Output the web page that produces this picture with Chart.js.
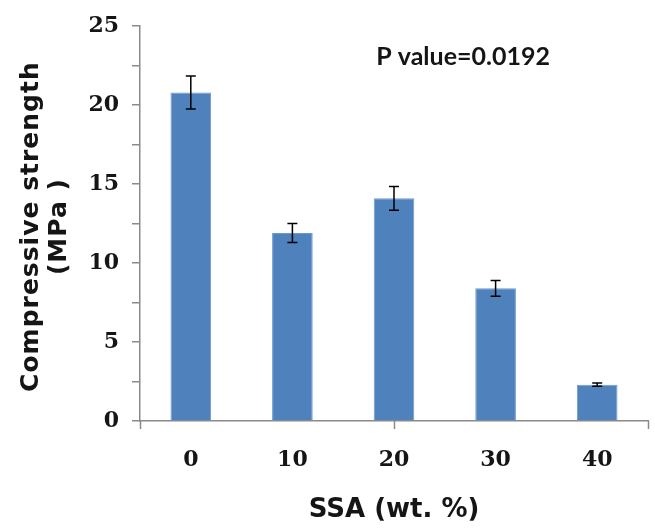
<!DOCTYPE html>
<html>
<head>
<meta charset="utf-8">
<script src="https://cdn.jsdelivr.net/npm/chart.js@4"></script>
<style>
  html, body { margin: 0; padding: 0; background: #fff; }
  #wrap { width: 655px; height: 528px; }
</style>
</head>
<body>
<div id="wrap"><canvas id="grafica"></canvas></div>
<script>
// datos
const categorias = ['0', '10', '20', '30', '40'];
const resistencia = [20.8, 11.9, 14.1, 8.4, 2.3];
const errores = [1.05, 0.6, 0.75, 0.5, 0.1];
const yTicks = [0, 5, 10, 15, 20, 25];
const tituloY = ['Compressive strength', '(MPa )'];
const pTexto = 'P value=0.0192';

const gris = '#8a8a8a';
const negro = '#151515';
const fuenteNum = { family: '"DejaVu Serif", serif', size: 22, weight: 'bold' };

// barras de error, marcas del eje x, titulo y y texto del p
const extras = {
  id: 'extras',
  afterDatasetsDraw(chart) {
    const { ctx, scales: { x, y } } = chart;
    ctx.save();
    ctx.strokeStyle = '#000';
    ctx.lineWidth = 1.5;
    resistencia.forEach((v, i) => {
      const cx = x.getPixelForValue(i);
      const top = y.getPixelForValue(v + errores[i]);
      const bot = y.getPixelForValue(v - errores[i]);
      ctx.beginPath();
      ctx.moveTo(cx, top); ctx.lineTo(cx, bot);
      ctx.moveTo(cx - 5, top); ctx.lineTo(cx + 5, top);
      ctx.moveTo(cx - 5, bot); ctx.lineTo(cx + 5, bot);
      ctx.stroke();
    });
    // marcas del eje x
    ctx.strokeStyle = gris;
    [-0.5, 2, 4.5].forEach(t => {
      const px = Math.round(x.getPixelForValue(t)) + 0.5;
      ctx.beginPath();
      ctx.moveTo(px, y.bottom);
      ctx.lineTo(px, y.bottom + 8);
      ctx.stroke();
    });
    // texto P value
    ctx.fillStyle = negro;
    ctx.font = 'bold 25px Lato, sans-serif';
    ctx.textAlign = 'center';
    ctx.textBaseline = 'middle';
    ctx.fillText(pTexto, x.getPixelForValue(2.68), y.getPixelForValue(23.05));
    // titulo del eje y
    ctx.font = 'bold 25px "DejaVu Sans", sans-serif';
    ctx.letterSpacing = '1px';
    const cy = (y.top + y.bottom) / 2 + 3;
    tituloY.forEach((t, i) => {
      ctx.save();
      ctx.translate(31 + i * 28, cy);
      ctx.rotate(-Math.PI / 2);
      ctx.fillText(t, 0, 0);
      ctx.restore();
    });
    ctx.restore();
  }
};

new Chart(document.getElementById('grafica'), {
  type: 'bar',
  data: {
    labels: categorias,
    datasets: [{
      data: resistencia,
      backgroundColor: '#4f81bd',
      borderColor: '#6d99d0',
      borderWidth: 1,
      barPercentage: 0.4,
      categoryPercentage: 1
    }]
  },
  options: {
    responsive: true,
    maintainAspectRatio: false,
    animation: false,
    layout: { padding: { top: 21, right: 7, left: 0, bottom: 0 } },
    plugins: { legend: { display: false }, tooltip: { enabled: false } },
    scales: {
      x: {
        grid: { display: false, drawTicks: false },
        border: { color: gris, width: 1.5 },
        ticks: { color: negro, font: fuenteNum, padding: 26 },
        title: {
          display: true,
          text: 'SSA (wt. %)',
          color: negro,
          font: { family: '"DejaVu Sans", sans-serif', size: 26, weight: 'bold' },
          padding: { top: 0, bottom: 2 }
        },
        afterFit: s => { s.height = 107; }
      },
      y: {
        min: 0,
        max: 25,
        grid: { drawOnChartArea: false, color: gris, lineWidth: 1.5, tickLength: 8 },
        border: { color: gris, width: 1.5 },
        ticks: {
          stepSize: 2.5,
          autoSkip: false,
          color: negro,
          font: fuenteNum,
          padding: 13,
          callback: v => yTicks.includes(v) ? v : ''
        },
        afterFit: s => { s.width = 140; }
      }
    }
  },
  plugins: [extras]
});
</script>
</body>
</html>
